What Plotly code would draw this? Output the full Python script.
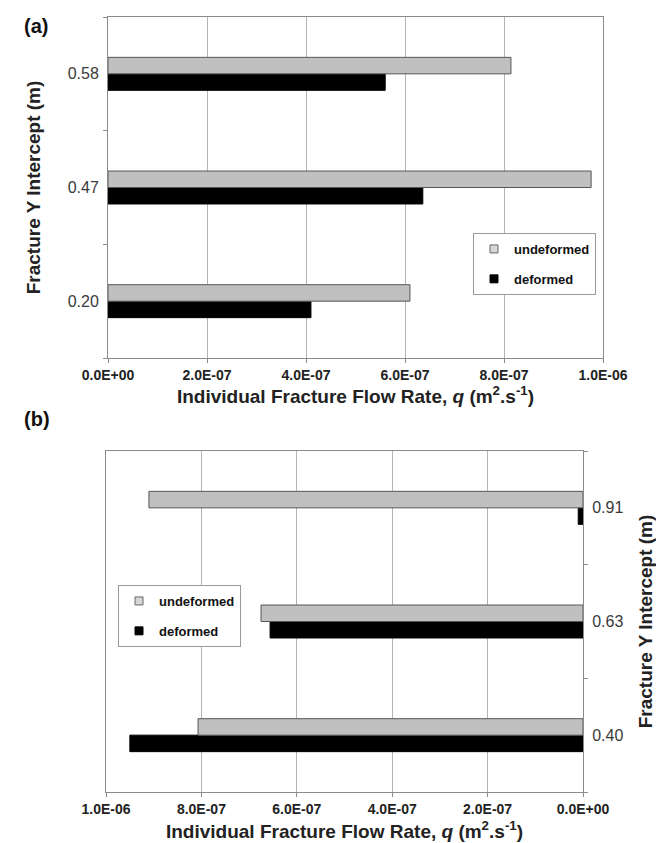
import plotly.graph_objects as go

# ---- data ----
cats_a = ["0.20", "0.47", "0.58"]
undeformed_a = [6.10e-7, 9.76e-7, 8.14e-7]
deformed_a = [4.10e-7, 6.36e-7, 5.60e-7]

cats_b = ["0.40", "0.63", "0.91"]
undeformed_b = [8.07e-7, 6.75e-7, 9.10e-7]
deformed_b = [9.50e-7, 6.56e-7, 1.0e-8]

x_tickvals = [0, 2e-7, 4e-7, 6e-7, 8e-7, 1e-6]
x_ticktext = ["0.0E+00", "2.0E-07", "4.0E-07", "6.0E-07", "8.0E-07", "1.0E-06"]

series_names = ["undeformed", "deformed"]

W, H = 664, 843
FONT = "Liberation Sans, Arial, sans-serif"
UND_COL = "#c0c0c0"
UND_LINE = "#555555"
DEF_COL = "#000000"
GRID = "#b4b4b4"

def px(x):
    return x / W

def py(y):
    return 1 - y / H

fig = go.Figure()

def add_panel(cats, und, dfm, xa, ya, leg):
    # deformed added first so undeformed sits above it in each group
    fig.add_trace(go.Bar(y=cats, x=dfm, orientation="h", name=series_names[1],
                         marker=dict(color=DEF_COL, line=dict(color="#000", width=1)),
                         xaxis=xa, yaxis=ya, showlegend=False))
    fig.add_trace(go.Bar(y=cats, x=und, orientation="h", name=series_names[0],
                         marker=dict(color=UND_COL, line=dict(color=UND_LINE, width=1)),
                         xaxis=xa, yaxis=ya, showlegend=False))
    # small square legend keys (as in the original chart)
    fig.add_trace(go.Scatter(x=[None], y=[None], mode="markers", name=series_names[0],
                             marker=dict(symbol="square", size=8, color="#d6d6d6",
                                         line=dict(color="#666", width=1)),
                             xaxis=xa, yaxis=ya, legend=leg, legendrank=1,
                             legendgroup=leg + "u"))
    fig.add_trace(go.Scatter(x=[None], y=[None], mode="markers", name=series_names[1],
                             marker=dict(symbol="square", size=8, color="#000",
                                         line=dict(color="#000", width=1)),
                             xaxis=xa, yaxis=ya, legend=leg, legendrank=2,
                             legendgroup=leg + "d"))

add_panel(cats_a, undeformed_a, deformed_a, "x", "y", "legend")
add_panel(cats_b, undeformed_b, deformed_b, "x2", "y2", "legend2")

tick_font = dict(family=FONT, size=14, color="#222", weight="bold")
cat_font = dict(family=FONT, size=16, color="#3a3a3a")
title_font = dict(family=FONT, size=19, color="#222", weight="bold")
xtitle = "Individual Fracture Flow Rate, <i>q</i> (m<sup>2</sup>.s<sup>-1</sup>)"
ytitle = "Fracture Y Intercept (m)"

common_x = dict(tickvals=x_tickvals, ticktext=x_ticktext, tickfont=tick_font,
                showgrid=True, gridcolor=GRID, gridwidth=1, zeroline=False,
                showline=True, linecolor="#8a8a8a", linewidth=1, mirror=True,
                ticks="outside", ticklen=4, tickcolor="#8a8a8a", automargin=False)
common_y = dict(type="category", tickfont=cat_font, showgrid=False, zeroline=False,
                showline=True, linecolor="#8a8a8a", linewidth=1, mirror=True,
                ticks="outside", ticklen=4, tickcolor="#8a8a8a", tickson="boundaries",
                ticklabelstandoff=5, automargin=False)

legend_common = dict(xanchor="left", yanchor="top", bordercolor="#9a9a9a",
                     borderwidth=1, bgcolor="white",
                     font=dict(family=FONT, size=13, color="#111", weight="bold"),
                     tracegroupgap=10, itemwidth=30)

fig.update_layout(
    width=W, height=H,
    margin=dict(l=0, r=0, t=0, b=0, autoexpand=False),
    paper_bgcolor="white", plot_bgcolor="white",
    barmode="group", bargap=0.71, bargroupgap=0,
    showlegend=True,
    xaxis=dict(domain=[px(100), px(595)], anchor="y", range=[0, 1e-6],
               title=dict(text=xtitle, font=title_font, standoff=3), **common_x),
    yaxis=dict(domain=[py(350), py(9)], anchor="x", side="left",
               title=dict(text=ytitle, font=title_font, standoff=22), **common_y),
    xaxis2=dict(domain=[px(98), px(575)], anchor="y2", range=[1e-6, 0],
                title=dict(text=xtitle, font=title_font, standoff=8), **common_x),
    yaxis2=dict(domain=[py(784), py(443)], anchor="x2", side="right",
                title=dict(text=ytitle, font=title_font, standoff=16), **common_y),
    legend=dict(x=px(465), y=py(225), **legend_common),
    legend2=dict(x=px(110), y=py(577), **legend_common),
    annotations=[
        dict(text="(a)", x=px(14), y=py(18), xref="paper", yref="paper",
             xanchor="left", yanchor="middle", showarrow=False,
             font=dict(family=FONT, size=20, color="#111", weight="bold")),
        dict(text="(b)", x=px(14), y=py(411), xref="paper", yref="paper",
             xanchor="left", yanchor="middle", showarrow=False,
             font=dict(family=FONT, size=20, color="#111", weight="bold")),
    ],
)

fig.write_html("out.html")
